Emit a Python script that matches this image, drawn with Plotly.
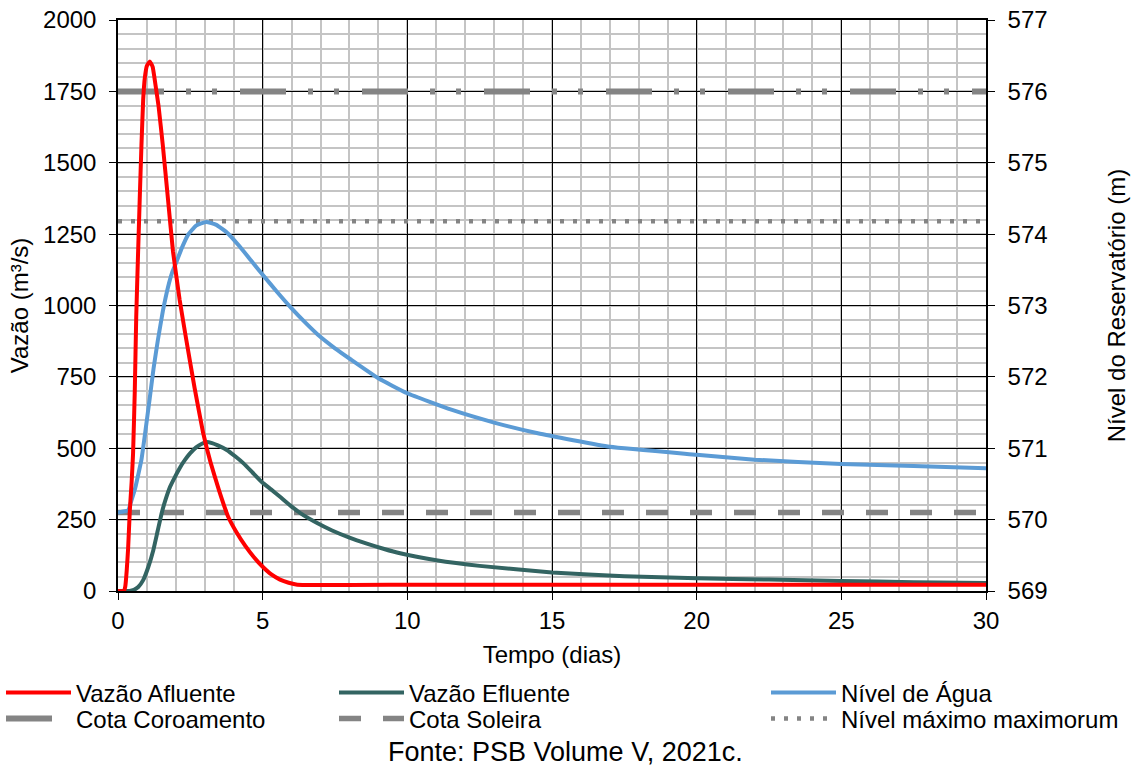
import plotly.graph_objects as go

# ---- data ----
t_afl = [0, 0.2, 0.25, 0.3, 0.35, 0.41, 0.47, 0.52, 0.58, 0.63, 0.69, 0.75, 0.81, 0.87, 0.93, 1.0, 1.1, 1.2,
         1.3, 1.4, 1.55, 1.73, 1.9, 2.13, 2.36, 2.65, 2.94, 3.2, 3.5, 3.8, 4.1, 4.4, 4.7, 5.0, 5.3, 5.6, 5.9,
         6.2, 10, 15, 20, 25, 30]
q_afl = [0, 0, 15, 70, 150, 284, 380, 480, 700, 960, 1170, 1370, 1560, 1720, 1800, 1840, 1855, 1835,
         1770, 1700, 1560, 1370, 1190, 1020, 880, 710, 555, 450, 350, 262, 205, 158, 118, 85, 58, 40, 29,
         22, 22, 22, 22, 22, 22]

t_efl = [0, 0.4, 0.55, 0.7, 0.87, 1.05, 1.22, 1.37, 1.52, 1.66, 1.8, 1.97, 2.14, 2.32, 2.49, 2.7, 2.9, 3.07,
         3.25, 3.45, 3.76, 4.05, 4.33, 4.65, 4.97, 5.3, 5.6, 5.95, 6.3, 6.85, 7.4, 8.0, 8.6, 9.2, 9.75, 11,
         12.5, 15, 17.5, 20, 22.5, 25, 27.5, 30]
q_efl = [0, 0, 4, 14, 38, 85, 143, 210, 277, 325, 365, 400, 432, 460, 482, 503, 516, 522,
         518, 510, 494, 472, 448, 415, 382, 355, 330, 300, 273, 240, 212, 187, 166, 147, 132, 108,
         88, 65, 52, 45, 40, 35, 31, 28]

t_niv = [0, 0.35, 0.45, 0.6, 0.7, 0.81, 0.95, 1.09, 1.23, 1.38, 1.55, 1.73, 1.87, 2.02, 2.2, 2.42, 2.7,
         3.05, 3.4, 3.8, 4.2, 4.6, 5.0, 5.5, 6.0, 6.45, 6.91, 7.5, 8.06, 9.0, 10, 11.52, 13, 14.51, 17, 20,
         22, 25, 27.5, 30]
n_niv = [570.1, 570.13, 570.25, 570.45, 570.63, 570.84, 571.25, 571.68, 572.12, 572.52, 572.92, 573.26,
         573.46, 573.61, 573.8, 573.99, 574.12, 574.17, 574.13, 574.01, 573.83, 573.63, 573.43, 573.19,
         572.96, 572.77, 572.59, 572.4, 572.24, 571.98, 571.77, 571.54, 571.36, 571.21, 571.02, 570.91,
         570.84, 570.78, 570.75, 570.72]

t_ref = [0, 30]
cota_coroamento = [576.0, 576.0]
cota_soleira = [570.1, 570.1]
nivel_max_max = [574.18, 574.18]

x_ticks = [0, 5, 10, 15, 20, 25, 30]
q_ticks = [0, 250, 500, 750, 1000, 1250, 1500, 1750, 2000]
n_ticks = [569, 570, 571, 572, 573, 574, 575, 576, 577]

# ---- styling ----
FONT = "Liberation Sans"
FS = 24
RED = "#FF0000"
TEAL = "#336462"
BLUE = "#5B9BD5"
GRAY = "#848484"

W, H = 1143, 771
L, R, T, B = 118, 986, 20, 591   # plot area in px
PW, PH = R - L, B - T


def px_x(p):
    return (p - L) / PW


def px_y(p):
    return (B - p) / PH


fig = go.Figure()

# reference levels (right axis, base y)
fig.add_trace(go.Scatter(x=t_ref, y=cota_coroamento, mode="lines", name="Cota Coroamento",
                         line=dict(color=GRAY, width=6, dash="46px,22px,5px,21px,5px,23px"),
                         yaxis="y", legend="legend4"))
fig.add_trace(go.Scatter(x=t_ref, y=cota_soleira, mode="lines", name="Cota Soleira",
                         line=dict(color=GRAY, width=5.5, dash="22px,22px"),
                         yaxis="y", legend="legend5"))
fig.add_trace(go.Scatter(x=t_ref, y=nivel_max_max, mode="lines", name="Nível máximo maximorum",
                         line=dict(color=GRAY, width=4.5, dash="4px,9px"),
                         yaxis="y", legend="legend6"))
fig.add_trace(go.Scatter(x=t_niv, y=n_niv, mode="lines", name="Nível de Água",
                         line=dict(color=BLUE, width=4, shape="spline", smoothing=0.4),
                         yaxis="y", legend="legend3"))
# flows (left axis, overlaying)
fig.add_trace(go.Scatter(x=t_efl, y=q_efl, mode="lines", name="Vazão Efluente",
                         line=dict(color=TEAL, width=4, shape="spline", smoothing=0.4),
                         yaxis="y2", legend="legend2"))
fig.add_trace(go.Scatter(x=t_afl, y=q_afl, mode="lines", name="Vazão Afluente",
                         line=dict(color=RED, width=4, shape="spline", smoothing=0.3),
                         yaxis="y2", legend="legend"))

legend_common = dict(orientation="v", xref="paper", yref="paper", yanchor="middle", xanchor="left",
                     font=dict(family=FONT, size=FS, color="black"), bgcolor="rgba(0,0,0,0)",
                     itemwidth=65)
row1 = px_y(693)
row2 = px_y(719)
col1 = px_x(1)
col2 = px_x(334)
col3 = px_x(766)

fig.update_layout(
    width=W, height=H,
    margin=dict(l=L, r=W - R, t=T, b=H - B, autoexpand=False),
    paper_bgcolor="white", plot_bgcolor="white",
    font=dict(family=FONT, size=FS, color="black"),
    xaxis=dict(range=[0, 30], tickvals=x_ticks, showline=True, mirror=True, linecolor="black",
               linewidth=1.5, ticks="outside", ticklen=7, tickcolor="black", automargin=False,
               ticklabeloverflow="allow",
               showgrid=True, gridcolor="black", gridwidth=1.2, zeroline=False,
               minor=dict(dtick=1, showgrid=True, gridcolor="#C4C4C4", gridwidth=1.6),
               title=dict(text="Tempo (dias)", font=dict(size=FS), standoff=14),
               tickfont=dict(size=FS)),
    yaxis=dict(range=[569, 577], tickvals=n_ticks, side="right", showline=True, linecolor="black",
               linewidth=1.5, ticks="outside", ticklen=7, tickcolor="black", automargin=False,
               ticklabelstandoff=8, ticklabeloverflow="allow",
               showgrid=True, gridcolor="black", gridwidth=1.2, zeroline=False,
               minor=dict(dtick=0.2, showgrid=True, gridcolor="#C4C4C4", gridwidth=1.6),
               title=dict(text="Nível do Reservatório (m)", font=dict(size=FS), standoff=62),
               tickfont=dict(size=FS)),
    yaxis2=dict(range=[0, 2000], tickvals=q_ticks, side="left", overlaying="y", showline=True,
                linecolor="black", linewidth=1.5, ticks="outside", ticklen=7, tickcolor="black",
                automargin=False, ticklabelstandoff=8, ticklabeloverflow="allow",
                showgrid=False, zeroline=False,
                title=dict(text="Vazão (m³/s)", font=dict(size=FS), standoff=8),
                tickfont=dict(size=FS)),
    legend=dict(x=col1, y=row1, **legend_common),
    legend2=dict(x=col2, y=row1, **legend_common),
    legend3=dict(x=col3, y=row1, **legend_common),
    legend4=dict(x=col1, y=row2, **legend_common),
    legend5=dict(x=col2, y=row2, **legend_common),
    legend6=dict(x=col3, y=row2, **legend_common),
    showlegend=True,
)

fig.add_annotation(text="Fonte: PSB Volume V, 2021c.", xref="paper", yref="paper",
                   x=px_x(565), y=px_y(752), xanchor="center", yanchor="middle",
                   showarrow=False, font=dict(family=FONT, size=27, color="black"))

# remove the browser's default 8px body margin so the figure sits at the page origin
fig.write_html("out.html",
               config={"displayModeBar": False},
               post_script="document.documentElement.style.margin='0';"
                           "document.body.style.margin='0';"
                           "document.body.style.overflow='hidden';")
